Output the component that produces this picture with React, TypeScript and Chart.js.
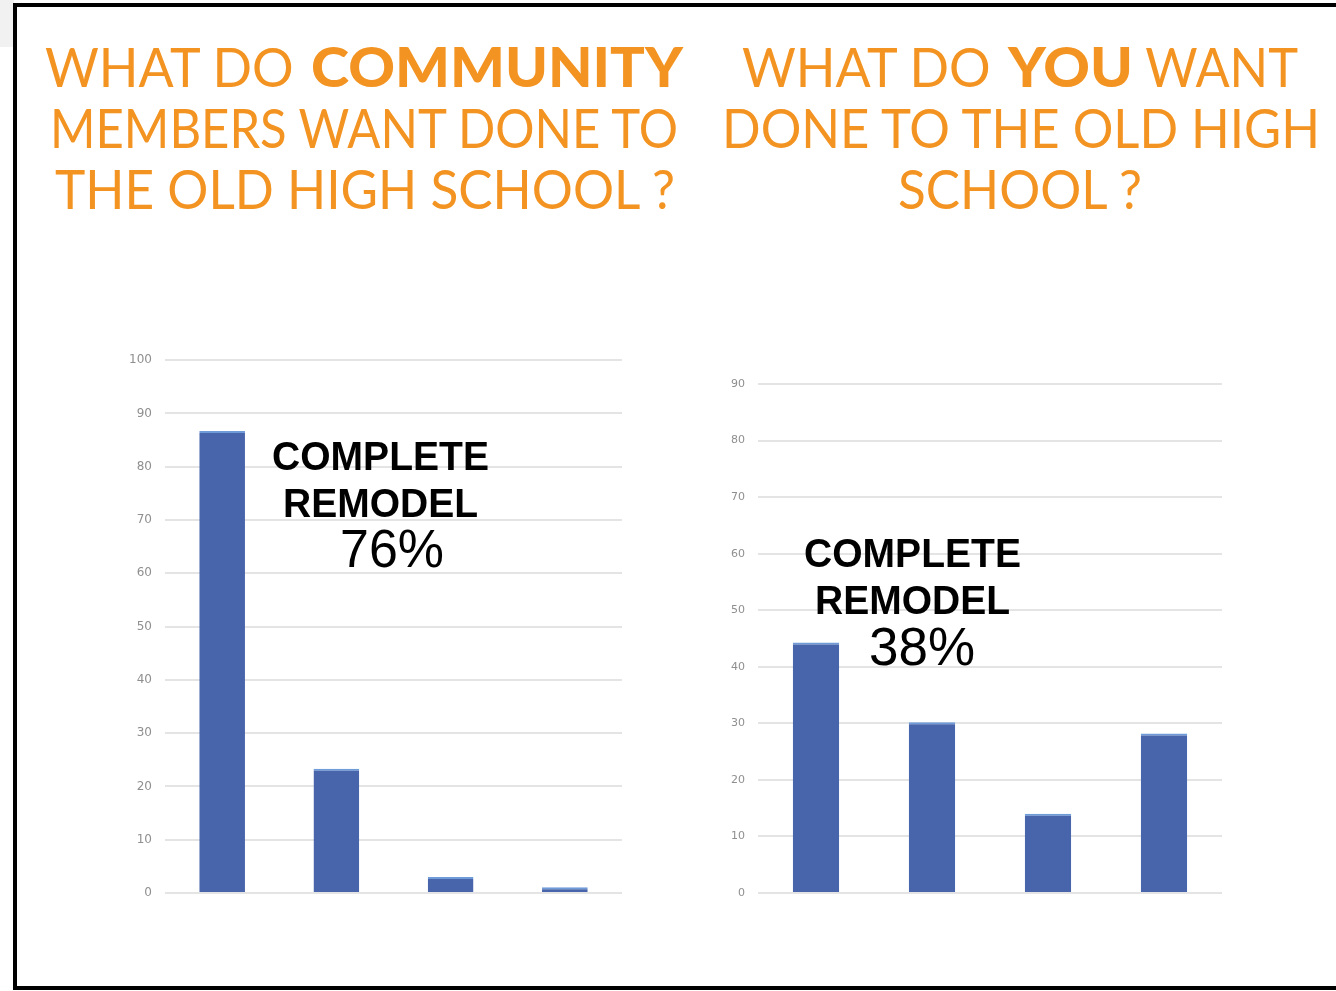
import React, { useEffect, useLayoutEffect, useRef } from "react";
import { Chart, registerables } from "chart.js";

Chart.register(...registerables);

const categories = ["Complete remodel", "Choice 2", "Choice 3", "Choice 4"];
const communityValues = [86.7, 23.3, 3, 1.1];
const youValues = [44.3, 30.2, 14, 28.2];
const communityTicks = [0, 10, 20, 30, 40, 50, 60, 70, 80, 90, 100];
const youTicks = [0, 10, 20, 30, 40, 50, 60, 70, 80, 90];
const leftTitleLines = ["WHAT DO ", "COMMUNITY", "MEMBERS WANT DONE TO", "THE OLD HIGH SCHOOL ?"];
const rightTitleLines = ["WHAT DO ", "YOU", " WANT", "DONE TO THE OLD HIGH", "SCHOOL ?"];
const communityNote = ["COMPLETE", "REMODEL", "76%"];
const youNote = ["COMPLETE", "REMODEL", "38%"];

const BAR = "#4864aa";
const CAP = "#6f9bd8";
const ORANGE = "#f39321";

type BarProps = {
  values: number[];
  max: number;
  ticks: number[];
  left: number;
  top: number;
  width: number;
  height: number;
  axisWidth: number;
  padTop: number;
  tickSize: number;
};

function BarChart(p: BarProps) {
  const ref = useRef<HTMLCanvasElement | null>(null);
  useEffect(() => {
    if (!ref.current) return;
    const chart = new Chart(ref.current, {
      type: "bar",
      data: {
        labels: categories,
        datasets: [
          {
            data: p.values,
            backgroundColor: BAR,
            borderColor: CAP,
            borderWidth: { top: 2, left: 0, right: 0, bottom: 0 },
            borderSkipped: "bottom",
            categoryPercentage: 1,
            barPercentage: 0.4,
          },
        ],
      },
      options: {
        animation: false,
        responsive: false,
        maintainAspectRatio: false,
        layout: { padding: { top: p.padTop, bottom: 27, right: 18, left: 0 } },
        plugins: { legend: { display: false }, tooltip: { enabled: false }, title: { display: false } },
        scales: {
          x: { display: false },
          y: {
            min: 0,
            max: p.max,
            afterFit: (s: any) => {
              s.width = p.axisWidth;
            },
            afterBuildTicks: (s: any) => {
              s.ticks = p.ticks.map((v) => ({ value: v }));
            },
            border: { display: false },
            grid: { color: "#e4e4e4", lineWidth: 2, drawTicks: false },
            ticks: {
              color: "#8f8f8f",
              padding: 13,
              font: { family: "'DejaVu Sans', sans-serif", size: p.tickSize },
            },
          },
        },
      },
    });
    return () => chart.destroy();
  }, []);
  return (
    <canvas
      ref={ref}
      width={p.width}
      height={p.height}
      style={{ position: "absolute", left: p.left, top: p.top, width: p.width, height: p.height }}
    />
  );
}

// A piece of text stretched/squeezed horizontally so that it spans [x, x+w]
function Fit({
  text,
  x,
  w,
  top,
  style,
}: {
  text: string;
  x: number;
  w: number;
  top: number;
  style: React.CSSProperties;
}) {
  const ref = useRef<HTMLDivElement | null>(null);
  useLayoutEffect(() => {
    const el = ref.current;
    if (!el) return;
    el.style.transform = "none";
    const nat = el.getBoundingClientRect().width;
    if (nat > 0) el.style.transform = `scaleX(${w / nat})`;
  }, [text, w]);
  return (
    <div
      ref={ref}
      style={{
        position: "absolute",
        left: x,
        top,
        whiteSpace: "pre",
        transformOrigin: "0 0",
        ...style,
      }}
    >
      {text}
    </div>
  );
}

const titleStyle = (bold: boolean): React.CSSProperties => ({
  fontFamily: "Lato, sans-serif",
  fontSize: 55,
  lineHeight: "61px",
  color: ORANGE,
  fontWeight: bold ? 900 : 400,
});

const noteStyle = (fs: number, weight: number): React.CSSProperties => ({
  fontFamily: "'Liberation Sans', Arial, sans-serif",
  fontWeight: weight,
  fontSize: fs,
  lineHeight: `${fs}px`,
  color: "#000",
});

export default function App() {
  const t0 = 36;
  const lh = 61;
  const nb = 41;
  const np = 54;
  const nTop = (base: number, fs: number) => base - 0.8465 * fs;
  return (
    <div style={{ position: "absolute", left: 0, top: 0, width: 1336, height: 991, background: "#fff", overflow: "hidden" }}>
      <div style={{ position: "absolute", left: 0, top: 0, width: 14, height: 47, background: "#f1f1f1" }} />
      <div
        style={{
          position: "absolute",
          left: 13,
          top: 3,
          width: 1340,
          height: 987,
          border: "4px solid #000",
          boxSizing: "border-box",
          background: "#fff",
        }}
      />
      {/* left title */}
      <Fit text={leftTitleLines[0]} x={45} w={262} top={t0} style={titleStyle(false)} />
      <Fit text={leftTitleLines[1]} x={311} w={372} top={t0} style={titleStyle(true)} />
      <Fit text={leftTitleLines[2]} x={50} w={628} top={t0 + lh} style={titleStyle(false)} />
      <Fit text={leftTitleLines[3]} x={55} w={620} top={t0 + 2 * lh} style={titleStyle(false)} />
      {/* right title */}
      <Fit text={rightTitleLines[0]} x={742} w={262} top={t0} style={titleStyle(false)} />
      <Fit text={rightTitleLines[1]} x={1008} w={125} top={t0} style={titleStyle(true)} />
      <Fit text={rightTitleLines[2]} x={1133} w={165} top={t0} style={titleStyle(false)} />
      <Fit text={rightTitleLines[3]} x={722} w={598} top={t0 + lh} style={titleStyle(false)} />
      <Fit text={rightTitleLines[4]} x={898} w={244} top={t0 + 2 * lh} style={titleStyle(false)} />

      <BarChart
        values={communityValues}
        max={100}
        ticks={communityTicks}
        left={100}
        top={340}
        width={540}
        height={580}
        axisWidth={65}
        padTop={20}
        tickSize={12}
      />
      <BarChart
        values={youValues}
        max={90}
        ticks={youTicks}
        left={700}
        top={360}
        width={540}
        height={560}
        axisWidth={58}
        padTop={24}
        tickSize={11}
      />

      {/* left annotation */}
      <Fit text={communityNote[0]} x={272} w={217} top={nTop(471, nb)} style={noteStyle(nb, 700)} />
      <Fit text={communityNote[1]} x={283} w={195} top={nTop(518, nb)} style={noteStyle(nb, 700)} />
      <Fit text={communityNote[2]} x={340} w={104} top={nTop(567, np)} style={noteStyle(np, 400)} />
      {/* right annotation */}
      <Fit text={youNote[0]} x={804} w={217} top={nTop(568, nb)} style={noteStyle(nb, 700)} />
      <Fit text={youNote[1]} x={815} w={195} top={nTop(615, nb)} style={noteStyle(nb, 700)} />
      <Fit text={youNote[2]} x={869} w={106} top={nTop(665, np)} style={noteStyle(np, 400)} />
    </div>
  );
}
